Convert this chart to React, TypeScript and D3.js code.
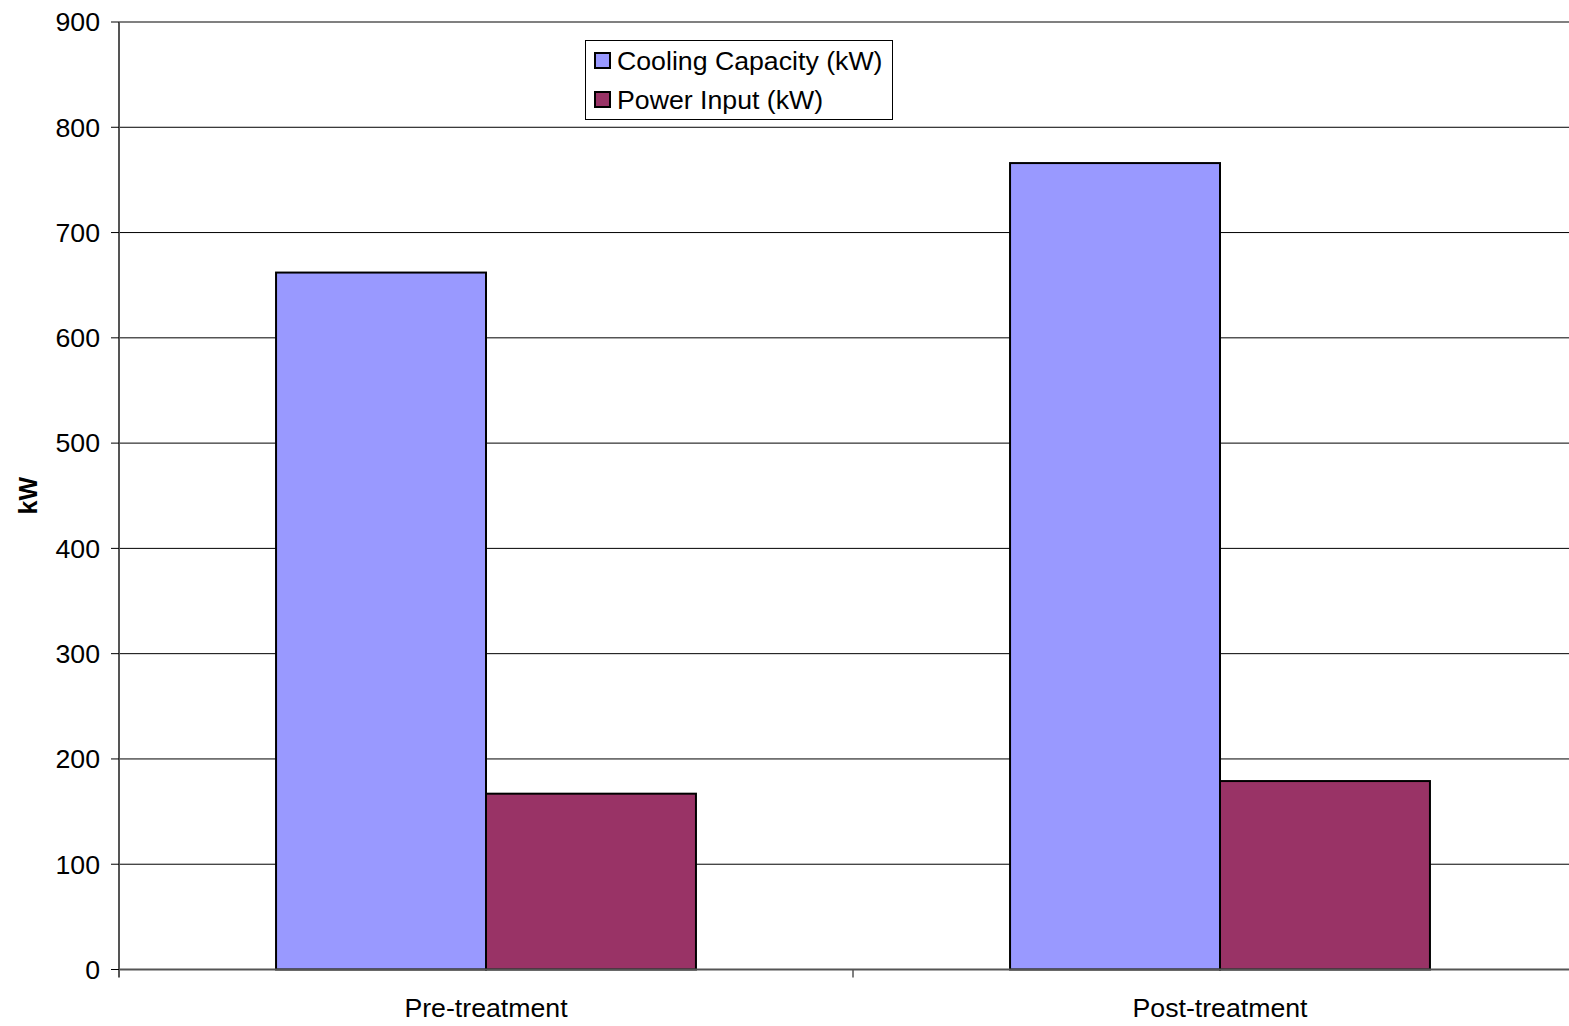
import React from "react";
import * as d3 from "d3";

const categories = ["Pre-treatment", "Post-treatment"];
const seriesNames = ["Cooling Capacity (kW)", "Power Input (kW)"];
const coolingCapacity = [662, 766];
const powerInput = [167, 179];
const yTicks = [0, 100, 200, 300, 400, 500, 600, 700, 800, 900];
const colors = ["#9999FF", "#993366"];

const W = 1569;
const H = 1026;
const left = 119;
const right = 1587;
const top = 22;
const bottom = 969.5;

export default function App() {
  const y = d3.scaleLinear().domain([0, 900]).range([bottom, top]);
  const x0 = d3.scaleBand<string>().domain(categories).range([left, right]).padding(0);
  const x1 = d3
    .scaleBand<string>()
    .domain(seriesNames)
    .range([0, x0.bandwidth()])
    .paddingInner(0)
    .paddingOuter(0.748);
  const values = [coolingCapacity, powerInput];
  const font = "Liberation Sans, Arial, sans-serif";
  const fs = 26.7;

  return (
    <svg
      width={W}
      height={H}
      style={{ position: "absolute", left: 0, top: 0, background: "#fff" }}
      fontFamily={font}
    >
      {/* gridlines */}
      {yTicks.slice(1, -1).map((t) => (
        <line key={t} x1={left} x2={W} y1={y(t)} y2={y(t)} stroke="#000" strokeWidth={1} />
      ))}
      <line x1={left} x2={W} y1={y(900)} y2={y(900)} stroke="#808080" strokeWidth={2} />
      {/* bars */}
      {categories.map((c, ci) =>
        seriesNames.map((s, si) => {
          const v = values[si][ci];
          const bx = (x0(c) as number) + (x1(s) as number);
          return (
            <rect
              key={c + s}
              x={bx}
              y={y(v)}
              width={x1.bandwidth()}
              height={y(0) - y(v)}
              fill={colors[si]}
              stroke="#000"
              strokeWidth={2}
            />
          );
        })
      )}
      {/* axes */}
      <line x1={left} x2={left} y1={top} y2={bottom + 8} stroke="#555" strokeWidth={2} />
      <line x1={left} x2={W} y1={bottom} y2={bottom} stroke="#555" strokeWidth={2} />
      {yTicks.map((t) => (
        <g key={t}>
          <line x1={left - 8} x2={left} y1={y(t)} y2={y(t)} stroke="#000" strokeWidth={1} />
          <text x={100} y={y(t)} dy="0.35em" textAnchor="end" fontSize={fs}>
            {t}
          </text>
        </g>
      ))}
      {categories.slice(1).map((c) => (
        <line
          key={c}
          x1={x0(c) as number}
          x2={x0(c) as number}
          y1={bottom}
          y2={bottom + 8}
          stroke="#555"
          strokeWidth={1.5}
        />
      ))}
      {categories.map((c) => (
        <text
          key={c}
          x={(x0(c) as number) + x0.bandwidth() / 2}
          y={1017}
          textAnchor="middle"
          fontSize={fs}
        >
          {c}
        </text>
      ))}
      <text
        transform={`translate(37,${(top + bottom) / 2}) rotate(-90)`}
        textAnchor="middle"
        fontSize={25}
        fontWeight="bold"
      >
        kW
      </text>
      {/* legend */}
      <rect x={585.5} y={40.5} width={307} height={79} fill="#fff" stroke="#000" strokeWidth={1} />
      {seriesNames.map((s, i) => (
        <g key={s}>
          <rect
            x={595}
            y={53 + i * 39}
            width={15}
            height={15}
            fill={colors[i]}
            stroke="#000"
            strokeWidth={2}
          />
          <text x={617} y={70 + i * 39} fontSize={fs}>
            {s}
          </text>
        </g>
      ))}
    </svg>
  );
}
